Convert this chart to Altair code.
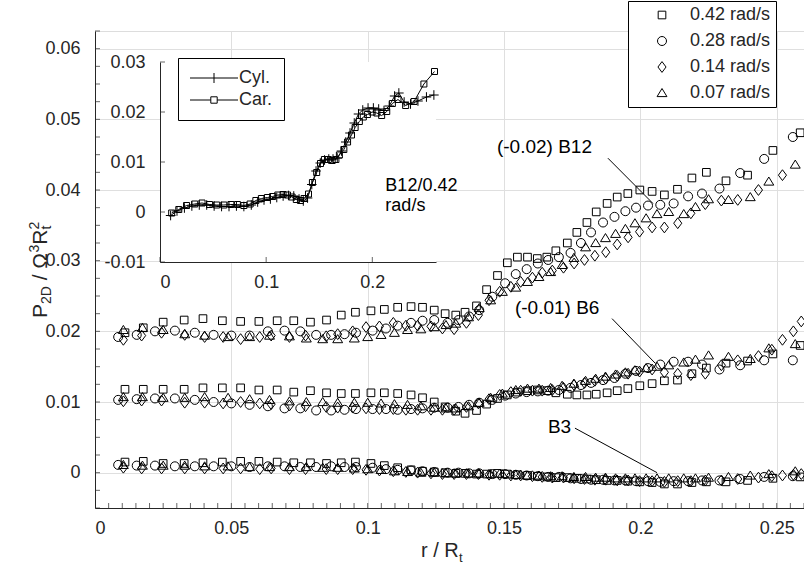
import altair as alt
import pandas as pd

FONT = "Liberation Sans"
AX = "#262626"
GRID = "#dfdfdf"
W, H = 709, 477
PAD = {"left": 95, "top": 31, "right": 0, "bottom": 62}

# ---------------- axes / ticks ----------------
X_DOMAIN = [0.0, 0.26]
Y_DOMAIN = [-0.005, 0.0625]
X_TICKS = [0, 0.05, 0.1, 0.15, 0.2, 0.25]
Y_TICKS = [0, 0.01, 0.02, 0.03, 0.04, 0.05, 0.06]
X_MINOR = [round(i * 0.005, 4) for i in range(1, 53)]
Y_MINOR = [round(-0.005 + i * 0.0025, 4) for i in range(0, 28)]

INSET_X_DOMAIN = [0.0, 0.26]
INSET_Y_DOMAIN = [-0.01, 0.03]
INSET_X_TICKS = [0, 0.1, 0.2]
INSET_Y_TICKS = [-0.01, 0, 0.01, 0.02, 0.03]
INSET_X_RANGE = [65, 341]
INSET_Y_RANGE = [231, 31]

SPEEDS = ["0.42 rad/s", "0.28 rad/s", "0.14 rad/s", "0.07 rad/s"]
SHAPES = [
    "M-0.85,-0.85L0.85,-0.85L0.85,0.85L-0.85,0.85Z",
    "circle",
    "M0,-1.2L0.9,0L0,1.2L-0.9,0Z",
    "M0,-1L1.1,0.8L-1.1,0.8Z",
]

# ---------------- data (r / R_t positions) ----------------
X_SQ = [0.0110, 0.0177, 0.0250, 0.0327, 0.0396, 0.0467, 0.0534, 0.0601, 0.0668, 0.0729,
        0.0790, 0.0849, 0.0903, 0.0955, 0.1012, 0.1061, 0.1110, 0.1159, 0.1201, 0.1244,
        0.1284, 0.1323, 0.1357, 0.1399, 0.1436, 0.1476, 0.1512, 0.1549, 0.1586, 0.1622,
        0.1657, 0.1690, 0.1732, 0.1767, 0.1804, 0.1838, 0.1878, 0.1915, 0.1954, 0.1998,
        0.2043, 0.2088, 0.2136, 0.2189, 0.2242, 0.2314, 0.2393, 0.2486, 0.2586]
X_CI = [0.0085, 0.0153, 0.0220, 0.0293, 0.0366, 0.0435, 0.0500, 0.0567, 0.0634, 0.0695,
        0.0753, 0.0811, 0.0866, 0.0915, 0.0957, 0.1018, 0.1067, 0.1110, 0.1159, 0.1201,
        0.1244, 0.1293, 0.1333, 0.1372, 0.1409, 0.1457, 0.1504, 0.1543, 0.1583, 0.1624,
        0.1662, 0.1701, 0.1744, 0.1782, 0.1819, 0.1863, 0.1905, 0.1945, 0.1984, 0.2028,
        0.2073, 0.2122, 0.2175, 0.2226, 0.2290, 0.2366, 0.2454, 0.2559]
X_DI = [0.0104, 0.0171, 0.0244, 0.0329, 0.0402, 0.0470, 0.0534, 0.0604, 0.0646, 0.0713,
        0.0772, 0.0848, 0.0890, 0.0945, 0.0994, 0.1043, 0.1094, 0.1140, 0.1183, 0.1232,
        0.1274, 0.1317, 0.1362, 0.1406, 0.1445, 0.1484, 0.1525, 0.1561, 0.1604, 0.1640,
        0.1677, 0.1718, 0.1757, 0.1795, 0.1833, 0.1873, 0.1915, 0.1955, 0.1997, 0.2043,
        0.2088, 0.2137, 0.2185, 0.2238, 0.2297, 0.2357, 0.2433, 0.2521]
X_DI_LOW = [0.0104, 0.0171, 0.0244, 0.0329, 0.0402, 0.0470, 0.0534, 0.0604, 0.0646, 0.0713,
            0.0772, 0.0848, 0.0890, 0.0945, 0.0994, 0.1043, 0.1094, 0.1140, 0.1183, 0.1232,
            0.1274, 0.1317, 0.1362, 0.1406, 0.1445, 0.1484, 0.1525, 0.1561, 0.1604, 0.1640,
            0.1677, 0.1718, 0.1757, 0.1795, 0.1833, 0.1873, 0.1915, 0.1955, 0.1997, 0.2043,
            0.2088, 0.2137, 0.2185, 0.2238, 0.2297, 0.2357, 0.2433, 0.2482, 0.2521, 0.2561,
            0.2590]
X_TR = [0.0104, 0.0174, 0.0250, 0.0329, 0.0402, 0.0488, 0.0567, 0.0640, 0.0713, 0.0775,
        0.0835, 0.0890, 0.0951, 0.1000, 0.1049, 0.1098, 0.1146, 0.1195, 0.1244, 0.1287,
        0.1323, 0.1370, 0.1409, 0.1451, 0.1494, 0.1543, 0.1586, 0.1628, 0.1671, 0.1713,
        0.1756, 0.1799, 0.1836, 0.1872, 0.1909, 0.1945, 0.1980, 0.2021, 0.2061, 0.2104,
        0.2159, 0.2202, 0.2250, 0.2323, 0.2403, 0.2471, 0.2568]

# B12 (shown shifted by +0.02)
B12_SQ = [0.0198, 0.0205, 0.0213, 0.0216, 0.0218, 0.0215, 0.0214, 0.0214, 0.0215, 0.0215,
          0.0213, 0.0216, 0.0223, 0.0227, 0.0229, 0.0231, 0.0234, 0.0235, 0.0234, 0.0230,
          0.0225, 0.0223, 0.0227, 0.0236, 0.0259, 0.0279, 0.0297, 0.0305, 0.0305, 0.0303,
          0.0305, 0.0314, 0.0325, 0.0340, 0.0354, 0.0369, 0.0381, 0.0390, 0.0395, 0.0400,
          0.0398, 0.0393, 0.0401, 0.0417, 0.0425, 0.0413, 0.0421, 0.0456, 0.0481]
B12_CI = [0.0192, 0.0195, 0.0200, 0.0201, 0.0198, 0.0195, 0.0194, 0.0194, 0.0200, 0.0201,
          0.0200, 0.0195, 0.0195, 0.0196, 0.0198, 0.0201, 0.0204, 0.0208, 0.0212, 0.0215,
          0.0216, 0.0212, 0.0216, 0.0221, 0.0230, 0.0249, 0.0268, 0.0281, 0.0288, 0.0296,
          0.0301, 0.0305, 0.0311, 0.0325, 0.0340, 0.0354, 0.0362, 0.0370, 0.0375, 0.0378,
          0.0379, 0.0381, 0.0391, 0.0395, 0.0402, 0.0424, 0.0444, 0.0475]
B12_DI = [0.0188, 0.0194, 0.0198, 0.0195, 0.0192, 0.0192, 0.0189, 0.0192, 0.0194, 0.0192,
          0.0194, 0.0193, 0.0196, 0.0200, 0.0206, 0.0207, 0.0212, 0.0208, 0.0208, 0.0207,
          0.0204, 0.0203, 0.0212, 0.0223, 0.0244, 0.0256, 0.0263, 0.0270, 0.0276, 0.0283,
          0.0286, 0.0290, 0.0296, 0.0301, 0.0307, 0.0312, 0.0323, 0.0333, 0.0341, 0.0347,
          0.0347, 0.0353, 0.0367, 0.0380, 0.0385, 0.0386, 0.0400, 0.0421]
B12_TR = [0.0202, 0.0205, 0.0202, 0.0196, 0.0194, 0.0192, 0.0192, 0.0194, 0.0193, 0.0190,
          0.0189, 0.0189, 0.0190, 0.0192, 0.0195, 0.0198, 0.0202, 0.0203, 0.0206, 0.0209,
          0.0211, 0.0220, 0.0233, 0.0244, 0.0256, 0.0262, 0.0270, 0.0277, 0.0284, 0.0294,
          0.0304, 0.0319, 0.0325, 0.0332, 0.0338, 0.0345, 0.0353, 0.0360, 0.0366, 0.0369,
          0.0366, 0.0376, 0.0387, 0.0386, 0.0390, 0.0412, 0.0436]

# B6 (shown shifted by +0.01)
B6_SQ = [0.0118, 0.0118, 0.0118, 0.0118, 0.0120, 0.0120, 0.0120, 0.0117, 0.0117, 0.0114,
         0.0116, 0.0113, 0.0112, 0.0112, 0.0113, 0.0113, 0.0112, 0.0110, 0.0106, 0.0100,
         0.0093, 0.0087, 0.0084, 0.0088, 0.0097, 0.0105, 0.0110, 0.0114, 0.0116, 0.0117,
         0.0116, 0.0113, 0.0111, 0.0110, 0.0110, 0.0111, 0.0113, 0.0116, 0.0119, 0.0123,
         0.0126, 0.0130, 0.0131, 0.0140, 0.0148, 0.0155, 0.0158, 0.0168, 0.0180]
B6_CI = [0.0103, 0.0104, 0.0105, 0.0105, 0.0103, 0.0100, 0.0098, 0.0096, 0.0094, 0.0091,
         0.0091, 0.0088, 0.0088, 0.0089, 0.0090, 0.0090, 0.0090, 0.0089, 0.0090, 0.0091,
         0.0092, 0.0092, 0.0093, 0.0096, 0.0099, 0.0103, 0.0109, 0.0112, 0.0114, 0.0115,
         0.0116, 0.0117, 0.0120, 0.0124, 0.0127, 0.0131, 0.0134, 0.0140, 0.0144, 0.0148,
         0.0153, 0.0157, 0.0157, 0.0153, 0.0146, 0.0152, 0.0159, 0.0159]
B6_DI = [0.0101, 0.0102, 0.0102, 0.0099, 0.0099, 0.0098, 0.0100, 0.0098, 0.0097, 0.0095,
         0.0094, 0.0093, 0.0092, 0.0092, 0.0091, 0.0090, 0.0090, 0.0089, 0.0089, 0.0089,
         0.0089, 0.0089, 0.0093, 0.0098, 0.0104, 0.0110, 0.0114, 0.0116, 0.0116, 0.0116,
         0.0117, 0.0120, 0.0124, 0.0127, 0.0130, 0.0133, 0.0137, 0.0140, 0.0143, 0.0146,
         0.0142, 0.0140, 0.0138, 0.0140, 0.0152, 0.0159, 0.0165, 0.0174, 0.0188, 0.0200,
         0.0214]
B6_TR = [0.0107, 0.0107, 0.0106, 0.0106, 0.0107, 0.0106, 0.0104, 0.0103, 0.0101, 0.0100,
         0.0100, 0.0099, 0.0099, 0.0099, 0.0098, 0.0097, 0.0096, 0.0094, 0.0092, 0.0091,
         0.0091, 0.0094, 0.0099, 0.0106, 0.0112, 0.0117, 0.0119, 0.0119, 0.0120, 0.0123,
         0.0126, 0.0130, 0.0133, 0.0136, 0.0139, 0.0142, 0.0145, 0.0148, 0.0150, 0.0152,
         0.0156, 0.0160, 0.0166, 0.0164, 0.0161, 0.0176, 0.0182]

# B3 (no shift)
B3_SQ = [0.0015, 0.0016, 0.0013, 0.0013, 0.0014, 0.0015, 0.0016, 0.0016, 0.0015, 0.0014,
         0.0014, 0.0013, 0.0014, 0.0015, 0.0013, 0.0010, 0.0007, 0.0004, 0.0002, 0.0001,
         0.0000, -0.0001, -0.0001, -0.0002, -0.0002, -0.0001, -0.0002, -0.0003, -0.0004, -0.0005,
         -0.0006, -0.0007, -0.0007, -0.0008, -0.0009, -0.0010, -0.0011, -0.0011, -0.0012, -0.0013,
         -0.0014, -0.0016, -0.0016, -0.0014, -0.0013, -0.0013, -0.0011, -0.0008, -0.0006]
B3_CI = [0.0011, 0.0010, 0.0010, 0.0009, 0.0009, 0.0009, 0.0009, 0.0008, 0.0009, 0.0009,
         0.0008, 0.0008, 0.0009, 0.0008, 0.0008, 0.0007, 0.0005, 0.0004, 0.0003, 0.0002,
         0.0001, 0.0000, 0.0000, -0.0001, -0.0001, -0.0002, -0.0002, -0.0003, -0.0004, -0.0005,
         -0.0006, -0.0006, -0.0008, -0.0009, -0.0010, -0.0010, -0.0011, -0.0011, -0.0012, -0.0012,
         -0.0013, -0.0012, -0.0012, -0.0011, -0.0011, -0.0009, -0.0006, -0.0005]
B3_DI = [0.0007, 0.0006, 0.0006, 0.0006, 0.0006, 0.0006, 0.0006, 0.0005, 0.0006, 0.0005,
         0.0005, 0.0005, 0.0005, 0.0005, 0.0004, 0.0003, 0.0002, 0.0001, 0.0000, -0.0001,
         -0.0002, -0.0002, -0.0002, -0.0002, -0.0003, -0.0003, -0.0004, -0.0004, -0.0005, -0.0006,
         -0.0007, -0.0007, -0.0008, -0.0009, -0.0010, -0.0010, -0.0011, -0.0011, -0.0012, -0.0012,
         -0.0013, -0.0012, -0.0012, -0.0011, -0.0011, -0.0009, -0.0007, -0.0005, -0.0004, -0.0003,
         -0.0002]
B3_TR = [0.0011, 0.0010, 0.0010, 0.0010, 0.0009, 0.0009, 0.0008, 0.0008, 0.0008, 0.0008,
         0.0007, 0.0007, 0.0006, 0.0005, 0.0004, 0.0002, 0.0001, 0.0000, 0.0000, -0.0001,
         -0.0001, -0.0001, -0.0001, -0.0002, -0.0002, -0.0003, -0.0004, -0.0004, -0.0005, -0.0005,
         -0.0006, -0.0006, -0.0007, -0.0007, -0.0008, -0.0008, -0.0008, -0.0008, -0.0008, -0.0008,
         -0.0008, -0.0008, -0.0007, -0.0006, -0.0004, -0.0002, 0.0002]

# inset: B12 / 0.42 rad/s, cylindrical vs cartesian
B12_SHIFT = 0.02
X_CYL = [0.010, 0.016, 0.023, 0.030, 0.037, 0.044, 0.051, 0.058, 0.065, 0.072,
         0.079, 0.086, 0.092, 0.098, 0.104, 0.110, 0.116, 0.121, 0.126, 0.131,
         0.135, 0.139, 0.143, 0.147, 0.151, 0.155, 0.159, 0.163, 0.167, 0.171,
         0.175, 0.179, 0.183, 0.187, 0.191, 0.196, 0.201, 0.206, 0.211, 0.216,
         0.221, 0.225, 0.230, 0.236, 0.243, 0.251, 0.258]
Y_CYL = [-0.0007, 0.0002, 0.0008, 0.0012, 0.0014, 0.0014, 0.0012, 0.0011, 0.0011, 0.0012,
         0.0011, 0.0014, 0.0020, 0.0024, 0.0026, 0.0029, 0.0032, 0.0033, 0.0032, 0.0026,
         0.0022, 0.0028, 0.0055, 0.0082, 0.0098, 0.0104, 0.0106, 0.0106, 0.0108, 0.0122,
         0.0140, 0.0158, 0.0178, 0.0196, 0.0204, 0.0208, 0.0208, 0.0206, 0.0203, 0.0212,
         0.0232, 0.0238, 0.0220, 0.0216, 0.0222, 0.0230, 0.0234]

# annotations (data coordinates)
ANN_TEXT = ["(-0.02) B12", "(-0.01) B6", "B3"]
ANN_X = [0.1474, 0.1540, 0.1661]
ANN_Y = [0.0452, 0.0224, 0.0056]
LEAD_X1 = [0.1881, 0.1896, 0.1760]
LEAD_Y1 = [0.0445, 0.0218, 0.0063]
LEAD_X2 = [0.2046, 0.2054, 0.2061]
LEAD_Y2 = [0.0381, 0.0155, 0.0000]

# ---------------- build tables ----------------
rows = []
groups = [
    ("B12", [(X_SQ, B12_SQ), (X_CI, B12_CI), (X_DI, B12_DI), (X_TR, B12_TR)]),
    ("B6", [(X_SQ, B6_SQ), (X_CI, B6_CI), (X_DI_LOW, B6_DI), (X_TR, B6_TR)]),
    ("B3", [(X_SQ, B3_SQ), (X_CI, B3_CI), (X_DI_LOW, B3_DI), (X_TR, B3_TR)]),
]
for g, series in groups:
    for speed, (xs, ys) in zip(SPEEDS, series):
        for x, y in zip(xs, ys):
            rows.append({"r": x, "p": y, "speed": speed, "group": g})
main_df = pd.DataFrame(rows)

inset_rows = [{"r": x, "p": y, "series": "Cyl."} for x, y in zip(X_CYL, Y_CYL)]
inset_rows += [{"r": x, "p": round(y - B12_SHIFT, 4), "series": "Car."} for x, y in zip(X_SQ, B12_SQ)]
inset_df = pd.DataFrame(inset_rows)

ann_df = pd.DataFrame({"t": ANN_TEXT, "x": ANN_X, "y": ANN_Y,
                       "x1": LEAD_X1, "y1": LEAD_Y1, "x2": LEAD_X2, "y2": LEAD_Y2})

LBL = "datum.value < 0 ? '-' + format(-datum.value, '~g') : format(datum.value, '~g')"


def main_x(field, axis=None):
    return alt.X(field, scale=alt.Scale(domain=X_DOMAIN, nice=False, zero=False), axis=axis)


def main_y(field, axis=None):
    return alt.Y(field, scale=alt.Scale(domain=Y_DOMAIN, nice=False, zero=False), axis=axis)


def in_x(field, axis=None):
    return alt.X(field, scale=alt.Scale(domain=INSET_X_DOMAIN, range=INSET_X_RANGE, nice=False, zero=False),
                 axis=axis)


def in_y(field, axis=None):
    return alt.Y(field, scale=alt.Scale(domain=INSET_Y_DOMAIN, range=INSET_Y_RANGE, nice=False, zero=False),
                 axis=axis)


x_axis = alt.Axis(values=X_TICKS, labelExpr=LBL, grid=True, gridColor=GRID, gridWidth=1,
                  tickSize=0, domainColor=AX, domainWidth=1, labelColor=AX, labelFont=FONT,
                  labelFontSize=18, labelPadding=11, title=None)
y_axis = alt.Axis(values=Y_TICKS, labelExpr=LBL, grid=True, gridColor=GRID, gridWidth=1,
                  tickSize=0, domainColor=AX, domainWidth=1, labelColor=AX, labelFont=FONT,
                  labelFontSize=18, labelPadding=15, title=None)

NB = "\u00a0"
main_legend = alt.Legend(
    title=None, orient="none", legendX=533, legendY=-30, padding=5,
    fillColor="white", strokeColor="black",
    symbolSize=81, symbolStrokeWidth=1, symbolStrokeColor="black",
    symbolFillColor="transparent", symbolOpacity=1, symbolOffset=20,
    labelOffset=19, rowPadding=8, labelFont=FONT, labelFontSize=18, labelColor=AX,
    labelExpr="datum.label + '" + NB * 4 + "'",
)

pts = alt.Chart(main_df).mark_point(filled=False, size=81, strokeWidth=1, color="black", opacity=1).encode(
    x=main_x("r:Q", x_axis),
    y=main_y("p:Q", y_axis),
    shape=alt.Shape("speed:N", scale=alt.Scale(domain=SPEEDS, range=SHAPES), legend=main_legend),
)

xt_df = pd.DataFrame({"v": X_MINOR, "b": Y_DOMAIN[0]})
yt_df = pd.DataFrame({"v": Y_MINOR, "b": X_DOMAIN[0]})
xticks = alt.Chart(xt_df).mark_tick(orient="vertical", size=5, thickness=1, yOffset=-2.5, color=AX).encode(
    x=main_x("v:Q"), y=main_y("b:Q"))
yticks = alt.Chart(yt_df).mark_tick(orient="horizontal", size=5, thickness=1, xOffset=2.5, color=AX).encode(
    y=main_y("v:Q"), x=main_x("b:Q"))

ann_text = alt.Chart(ann_df).mark_text(align="left", baseline="alphabetic", font=FONT,
                                       fontSize=19, color="black").encode(
    x=main_x("x:Q"), y=main_y("y:Q"), text="t:N")
ann_rule = alt.Chart(ann_df).mark_rule(color="black", strokeWidth=1).encode(
    x=main_x("x1:Q"), y=main_y("y1:Q"), x2="x2:Q", y2="y2:Q")


def label(text, sx, sy, size, angle=0):
    return alt.Chart(pd.DataFrame({"k": [0]})).mark_text(
        text=text, align="left", baseline="alphabetic", font=FONT, fontSize=size,
        color=AX, angle=angle).encode(x=alt.value(sx - PAD["left"]), y=alt.value(sy - PAD["top"]))


titles = [
    label("r / R", 421, 557, 20), label("t", 459, 562, 13),
    label("P", 47, 318, 21, 270), label("2D", 51, 304, 14, 270),
    label("/", 47, 280.3, 21, 270), label("\u03a9", 47, 268.7, 21, 270),
    label("3", 39, 252.6, 14, 270),
    label("R", 47, 244.8, 21, 270), label("2", 39, 229.6, 14, 270),
    label("t", 51, 229.6, 14, 270),
]

# ---------------- inset ----------------
in_x_axis = alt.Axis(values=INSET_X_TICKS, labelExpr=LBL, orient="bottom", offset=-246, grid=False,
                     tickSize=0, domainColor=AX, domainWidth=1, labelColor=AX, labelFont=FONT,
                     labelFontSize=18, labelPadding=11, title=None, zindex=1)
in_y_axis = alt.Axis(values=INSET_Y_TICKS, labelExpr=LBL, orient="left", offset=-65, grid=False,
                     tickSize=0, domainColor=AX, domainWidth=1, labelColor=AX, labelFont=FONT,
                     labelFontSize=18, labelPadding=15, title=None, zindex=1)

bg_df = pd.DataFrame({"x0": [INSET_X_DOMAIN[0]], "x1": [INSET_X_DOMAIN[1]],
                      "y0": [INSET_Y_DOMAIN[0]], "y1": [INSET_Y_DOMAIN[1]]})
bg = alt.Chart(bg_df).mark_rect(fill="white", strokeWidth=0).encode(
    x=in_x("x0:Q", in_x_axis), x2="x1:Q",
    y=in_y("y0:Q", in_y_axis), y2="y1:Q")

in_lines = alt.Chart(inset_df).mark_line(color="black", strokeWidth=1).encode(
    x=in_x("r:Q"), y=in_y("p:Q"), detail="series:N", order="r:Q")

IN_SERIES = ["Cyl.", "Car."]
IN_SHAPES = ["M-1.2,0L1.2,0M0,-1.2L0,1.2", "M-0.75,-0.75L0.75,-0.75L0.75,0.75L-0.75,0.75Z"]
IN_LEG_SHAPES = ["M-6,0L6,0M0,-1.25L0,1.25",
                 "M-6,0L-0.8,0M0.8,0L6,0M-0.8,-0.8L0.8,-0.8L0.8,0.8L-0.8,0.8Z"]

in_pts = alt.Chart(inset_df).mark_point(filled=False, size=64, strokeWidth=1, color="black", opacity=1).encode(
    x=in_x("r:Q"), y=in_y("p:Q"),
    shape=alt.Shape("series:N", scale=alt.Scale(domain=IN_SERIES, range=IN_SHAPES), legend=None))

in_leg = alt.Chart(inset_df).mark_point(filled=False, size=64, color="black", opacity=0).encode(
    x=in_x("r:Q"), y=in_y("p:Q"),
    shape=alt.Shape("series:N", scale=alt.Scale(domain=IN_SERIES, range=IN_LEG_SHAPES),
                    legend=alt.Legend(title=None, orient="none", legendX=83, legendY=27, padding=11,
                                      fillColor="white", strokeColor="black", symbolSize=64,
                                      symbolStrokeWidth=1, symbolStrokeColor="black",
                                      symbolFillColor="transparent", symbolOpacity=1,
                                      symbolOffset=16, labelOffset=16, rowPadding=4,
                                      labelFont=FONT, labelFontSize=18, labelColor=AX)))

in_xt = alt.Chart(pd.DataFrame({"v": INSET_X_TICKS, "b": INSET_Y_DOMAIN[0]})).mark_tick(
    orient="vertical", size=5, thickness=1, yOffset=-2.5, color=AX).encode(
    x=in_x("v:Q"), y=in_y("b:Q"))
in_yt = alt.Chart(pd.DataFrame({"v": INSET_Y_TICKS, "b": INSET_X_DOMAIN[0]})).mark_tick(
    orient="horizontal", size=5, thickness=1, xOffset=2.5, color=AX).encode(
    y=in_y("v:Q"), x=in_x("b:Q"))

in_txt = alt.Chart(pd.DataFrame({"t": ["B12/0.42", "rad/s"], "x": [0.2123, 0.2123],
                                 "y": [0.0042, 0.0002]})).mark_text(
    align="left", baseline="alphabetic", font=FONT, fontSize=18, color="black").encode(
    x=in_x("x:Q"), y=in_y("y:Q"), text="t:N")

chart = alt.layer(
    pts, xticks, yticks, ann_rule, ann_text, *titles,
    bg, in_lines, in_pts, in_xt, in_yt, in_txt, in_leg,
).resolve_scale(
    x="independent", y="independent", shape="independent"
).properties(
    width=W, height=H, padding=PAD, autosize=alt.AutoSizeParams(type="none"),
).configure_view(stroke=None).configure(background="white")

chart.save("out.html", embed_options={"renderer": "svg", "actions": False})
